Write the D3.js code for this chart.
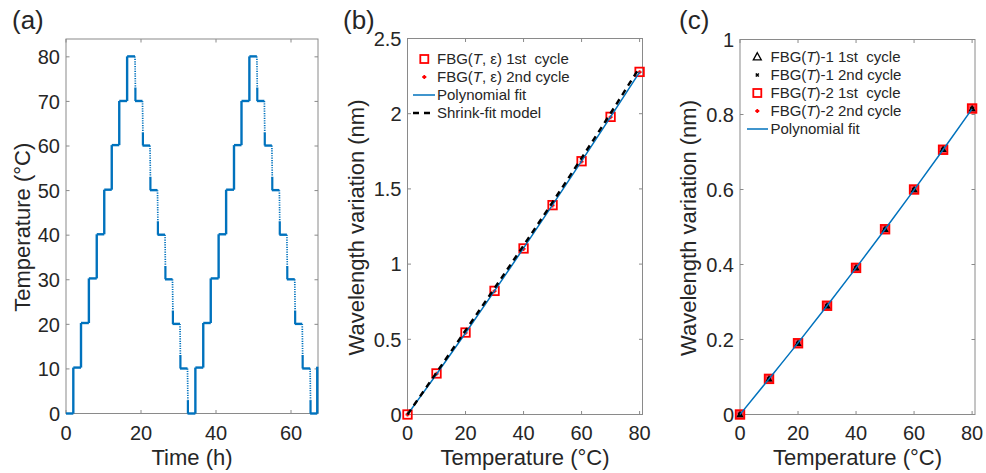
<!DOCTYPE html>
<html>
<head>
<meta charset="utf-8">
<script src="https://cdn.jsdelivr.net/npm/d3@7"></script>
<style>
  body { margin: 0; background: #fff; }
  svg { display: block; font-family: "Liberation Sans", Arial, sans-serif; }
  .tick-label { font-size: 20px; fill: #262626; }
  .axis-title { font-size: 22px; fill: #262626; }
  .legend-text { font-size: 15px; fill: #262626; }
  .panel-label { font-size: 26px; fill: #262626; }
</style>
</head>
<body>
<div id="chart"></div>
<script>
const WIDTH = 986;
const HEIGHT = 473;
const BLUE = "#0072BD";
const RED = "#FF0000";
const AXIS_GRAY = "#8a8a8a";

// (a) temperature program: switch times (h) and the level held from that time on
const stepTimes = [0, 1.95, 4.0, 6.1, 8.2, 10.2, 12.2, 14.2, 16.3, 18.4, 20.4, 22.4, 24.4, 26.4, 28.4, 30.4, 32.4,
                   34.5, 36.6, 38.6, 40.7, 42.7, 44.8, 46.8, 48.9, 50.9, 52.9, 54.9, 56.9, 58.9, 61.0, 63.0, 65.1, 67.0];
const stepLevels = [0, 10.3, 20.3, 30.3, 40.2, 50.2, 60.2, 70.1, 80.1, 70.1, 60.1, 50.1, 40.1, 30.1, 20.1, 10.1, 0,
                    10.3, 20.3, 30.3, 40.2, 50.2, 60.2, 70.1, 80.1, 70.1, 60.1, 50.1, 40.1, 30.1, 20.1, 10.1, 0, 10.5];
const aTimeTicks = [0, 20, 40, 60];
const aTempTicks = [0, 10, 20, 30, 40, 50, 60, 70, 80];

// (b) FBG(T, eps) wavelength variation (nm)
const temperatures = [0, 10, 20, 30, 40, 50, 60, 70, 80];
const bFirstCycle = [0, 0.273, 0.545, 0.822, 1.104, 1.392, 1.684, 1.979, 2.278];
const bSecondCycle = [0, 0.271, 0.543, 0.820, 1.101, 1.390, 1.682, 1.977, 2.276];
const bPolyFit = [0, 0.268, 0.542, 0.822, 1.106, 1.394, 1.685, 1.979, 2.277];
const bShrinkFit = [0, 0.279, 0.559, 0.840, 1.124, 1.412, 1.705, 2.003, 2.308];
const bTempTicks = [0, 20, 40, 60, 80];
const bWaveTicks = [0, 0.5, 1, 1.5, 2, 2.5];

// (c) FBG(T)-1 and FBG(T)-2 wavelength variation (nm)
const c1FirstCycle = [0, 0.095, 0.190, 0.290, 0.391, 0.494, 0.600, 0.707, 0.816];
const c1SecondCycle = [0, 0.094, 0.189, 0.289, 0.390, 0.493, 0.599, 0.706, 0.815];
const c2FirstCycle = [0, 0.095, 0.190, 0.290, 0.391, 0.494, 0.600, 0.706, 0.816];
const c2SecondCycle = [0, 0.094, 0.189, 0.289, 0.390, 0.493, 0.599, 0.706, 0.815];
const cPolyFit = [0, 0.095, 0.191, 0.290, 0.391, 0.494, 0.599, 0.706, 0.815];
const cWaveTicks = [0, 0.2, 0.4, 0.6, 0.8, 1];

const svg = d3.select("#chart").append("svg")
    .attr("width", WIDTH)
    .attr("height", HEIGHT);

// Draws box, inward ticks on all sides, tick labels and titles
function drawAxes(p) {
    const g = svg.append("g");
    const [x0, x1] = p.x.range();
    const [y0, y1] = p.y.range(); // y0 = bottom, y1 = top
    const TL = 3.5;

    g.append("rect")
        .attr("x", x0).attr("y", y1)
        .attr("width", x1 - x0).attr("height", y0 - y1)
        .attr("fill", "none").attr("stroke", AXIS_GRAY).attr("stroke-width", 1);

    p.xTicks.forEach(t => {
        const px = p.x(t);
        g.append("line").attr("x1", px).attr("x2", px).attr("y1", y0).attr("y2", y0 - TL)
            .attr("stroke", AXIS_GRAY);
        g.append("line").attr("x1", px).attr("x2", px).attr("y1", y1).attr("y2", y1 + TL)
            .attr("stroke", AXIS_GRAY);
        g.append("text").attr("class", "tick-label")
            .attr("x", px).attr("y", 440)
            .attr("text-anchor", "middle")
            .text(p.xFmt(t));
    });

    p.yTicks.forEach(t => {
        const py = p.y(t);
        g.append("line").attr("x1", x0).attr("x2", x0 + TL).attr("y1", py).attr("y2", py)
            .attr("stroke", AXIS_GRAY);
        g.append("line").attr("x1", x1).attr("x2", x1 - TL).attr("y1", py).attr("y2", py)
            .attr("stroke", AXIS_GRAY);
        g.append("text").attr("class", "tick-label")
            .attr("x", x0 - 6).attr("y", py).attr("dy", "0.36em")
            .attr("text-anchor", "end")
            .text(p.yFmt(t));
    });

    g.append("text").attr("class", "axis-title")
        .attr("x", (x0 + x1) / 2).attr("y", 465)
        .attr("text-anchor", "middle")
        .text(p.xTitle);

    g.append("text").attr("class", "axis-title")
        .attr("transform", `translate(${p.yTitleX}, ${(y0 + y1) / 2 + 1}) rotate(-90)`)
        .attr("text-anchor", "middle")
        .text(p.yTitle);

    svg.append("text").attr("class", "panel-label")
        .attr("x", p.labelX).attr("y", 29)
        .text(p.label);
}

// marker helpers
function squareMarker(g, cx, cy, size, color) {
    g.append("rect")
        .attr("x", cx - size / 2).attr("y", cy - size / 2)
        .attr("width", size).attr("height", size)
        .attr("fill", "none").attr("stroke", color).attr("stroke-width", 1.8);
}
function plusMarker(g, cx, cy, size, color) {
    g.append("path")
        .attr("d", `M${cx - size / 2},${cy}H${cx + size / 2}M${cx},${cy - size / 2}V${cy + size / 2}`)
        .attr("stroke", color).attr("stroke-width", 1.8).attr("fill", "none");
}
function crossMarker(g, cx, cy, size, color) {
    const h = size / 2;
    g.append("path")
        .attr("d", `M${cx - h},${cy - h}L${cx + h},${cy + h}M${cx - h},${cy + h}L${cx + h},${cy - h}`)
        .attr("stroke", color).attr("stroke-width", 1.6).attr("fill", "none");
}
function triangleMarker(g, cx, cy, size, color) {
    const h = size / 2;
    g.append("path")
        .attr("d", `M${cx},${cy - h}L${cx + h},${cy + h * 0.8}L${cx - h},${cy + h * 0.8}Z`)
        .attr("stroke", color).attr("stroke-width", 1.3).attr("fill", "none");
}

// legend text with italic T
function legendText(g, x, y, before, after) {
    const t = g.append("text").attr("class", "legend-text")
        .attr("x", x).attr("y", y).attr("dy", "0.36em")
        .style("white-space", "pre");
    if (after === undefined) {
        t.text(before);
        return;
    }
    t.append("tspan").text(before);
    t.append("tspan").attr("font-style", "italic").text("T");
    t.append("tspan").text(after);
}

// ---------- Panel (a) ----------
const ax = d3.scaleLinear().domain([0, 67.2]).range([66, 318]);
const ay = d3.scaleLinear().domain([0, 84]).range([413.5, 39]);
drawAxes({
    x: ax, y: ay, xTicks: aTimeTicks, yTicks: aTempTicks,
    xFmt: d3.format("d"), yFmt: d3.format("d"),
    xTitle: "Time (h)", yTitle: "Temperature (°C)", yTitleX: 30,
    label: "(a)", labelX: 12
});

const aLine = d3.line().x(d => ax(d[0])).y(d => ay(d[1]));
const aG = svg.append("g");
for (let i = 0; i < stepTimes.length - 1; i++) {
    const lv = stepLevels[i];
    // plateau
    aG.append("path").attr("d", aLine([[stepTimes[i], lv], [stepTimes[i + 1], lv]]))
        .attr("stroke", BLUE).attr("stroke-width", 2.4).attr("fill", "none");
    // transition at the end of the plateau
    const next = stepLevels[i + 1];
    const tt = stepTimes[i + 1];
    if (next > lv) {
        aG.append("path").attr("d", aLine([[tt, lv], [tt, next]]))
            .attr("stroke", BLUE).attr("stroke-width", 2.4).attr("fill", "none");
    } else {
        // cooling: sparse samples on the upper part, dense near the new level
        aG.append("path").attr("d", aLine([[tt, lv], [tt + 0.1, next + 3]]))
            .attr("stroke", BLUE).attr("stroke-width", 1.7).attr("fill", "none")
            .attr("stroke-dasharray", "1.2,1.2");
        aG.append("path").attr("d", aLine([[tt + 0.1, next + 3], [tt + 0.12, next]]))
            .attr("stroke", BLUE).attr("stroke-width", 2.2).attr("fill", "none");
    }
}

// ---------- Panel (b) ----------
const bx = d3.scaleLinear().domain([0, 81]).range([407.5, 642.5]);
const by = d3.scaleLinear().domain([0, 2.5]).range([414.5, 38.5]);
drawAxes({
    x: bx, y: by, xTicks: bTempTicks, yTicks: bWaveTicks,
    xFmt: d3.format("d"), yFmt: d => String(d),
    xTitle: "Temperature (°C)", yTitle: "Wavelength variation (nm)", yTitleX: 364,
    label: "(b)", labelX: 343
});

const bLine = d3.line().x((d, i) => bx(temperatures[i])).y(d => by(d)).curve(d3.curveMonotoneX);
const bG = svg.append("g");
temperatures.forEach((t, i) => squareMarker(bG, bx(t), by(bFirstCycle[i]), 8.5, RED));
temperatures.forEach((t, i) => plusMarker(bG, bx(t), by(bSecondCycle[i]), 4, RED));
bG.append("path").attr("d", bLine(bPolyFit))
    .attr("stroke", BLUE).attr("stroke-width", 1.5).attr("fill", "none");
bG.append("path").attr("d", bLine(bShrinkFit))
    .attr("stroke", "#000").attr("stroke-width", 2.4).attr("fill", "none")
    .attr("stroke-dasharray", "6,5");

// legend (b)
const bL = svg.append("g");
squareMarker(bL, 424.3, 59, 8, RED);
legendText(bL, 437, 59, "FBG(", ", ε) 1st  cycle");
plusMarker(bL, 424.3, 77, 4, RED);
legendText(bL, 437, 77, "FBG(", ", ε) 2nd cycle");
bL.append("line").attr("x1", 413).attr("x2", 435).attr("y1", 95).attr("y2", 95)
    .attr("stroke", BLUE).attr("stroke-width", 1.5);
legendText(bL, 437, 95, "Polynomial fit");
bL.append("line").attr("x1", 413).attr("x2", 435).attr("y1", 113).attr("y2", 113)
    .attr("stroke", "#000").attr("stroke-width", 2.4).attr("stroke-dasharray", "6,5");
legendText(bL, 437, 113, "Shrink-fit model");

// ---------- Panel (c) ----------
const cx = d3.scaleLinear().domain([0, 81]).range([740, 975]);
const cy = d3.scaleLinear().domain([0, 1]).range([414.5, 39.5]);
drawAxes({
    x: cx, y: cy, xTicks: bTempTicks, yTicks: cWaveTicks,
    xFmt: d3.format("d"), yFmt: d => String(d),
    xTitle: "Temperature (°C)", yTitle: "Wavelength variation (nm)", yTitleX: 696,
    label: "(c)", labelX: 679
});

const cLine = d3.line().x((d, i) => cx(temperatures[i])).y(d => cy(d)).curve(d3.curveMonotoneX);
const cG = svg.append("g");
temperatures.forEach((t, i) => {
    cG.append("rect")
        .attr("x", cx(t) - 4.3).attr("y", cy(c2FirstCycle[i]) - 4.3)
        .attr("width", 8.6).attr("height", 8.6)
        .attr("fill", "#f23").attr("fill-opacity", 0.85)
        .attr("stroke", RED).attr("stroke-width", 1.8);
});
temperatures.forEach((t, i) => plusMarker(cG, cx(t), cy(c2SecondCycle[i]), 4, RED));
temperatures.forEach((t, i) => triangleMarker(cG, cx(t), cy(c1FirstCycle[i]), 5, "#000"));
temperatures.forEach((t, i) => crossMarker(cG, cx(t), cy(c1SecondCycle[i]), 3.5, "#000"));
cG.append("path").attr("d", cLine(cPolyFit))
    .attr("stroke", BLUE).attr("stroke-width", 1.5).attr("fill", "none");

// legend (c)
const cL = svg.append("g");
triangleMarker(cL, 757.3, 56.7, 8, "#000");
legendText(cL, 770.5, 57, "FBG(", ")-1 1st  cycle");
crossMarker(cL, 757.3, 75, 3, "#000");
legendText(cL, 770.5, 75, "FBG(", ")-1 2nd cycle");
squareMarker(cL, 757.3, 93, 8, RED);
legendText(cL, 770.5, 93, "FBG(", ")-2 1st  cycle");
plusMarker(cL, 757.3, 111, 4, RED);
legendText(cL, 770.5, 111, "FBG(", ")-2 2nd cycle");
cL.append("line").attr("x1", 747).attr("x2", 768).attr("y1", 129).attr("y2", 129)
    .attr("stroke", BLUE).attr("stroke-width", 1.5);
legendText(cL, 770.5, 129, "Polynomial fit");
</script>
</body>
</html>
